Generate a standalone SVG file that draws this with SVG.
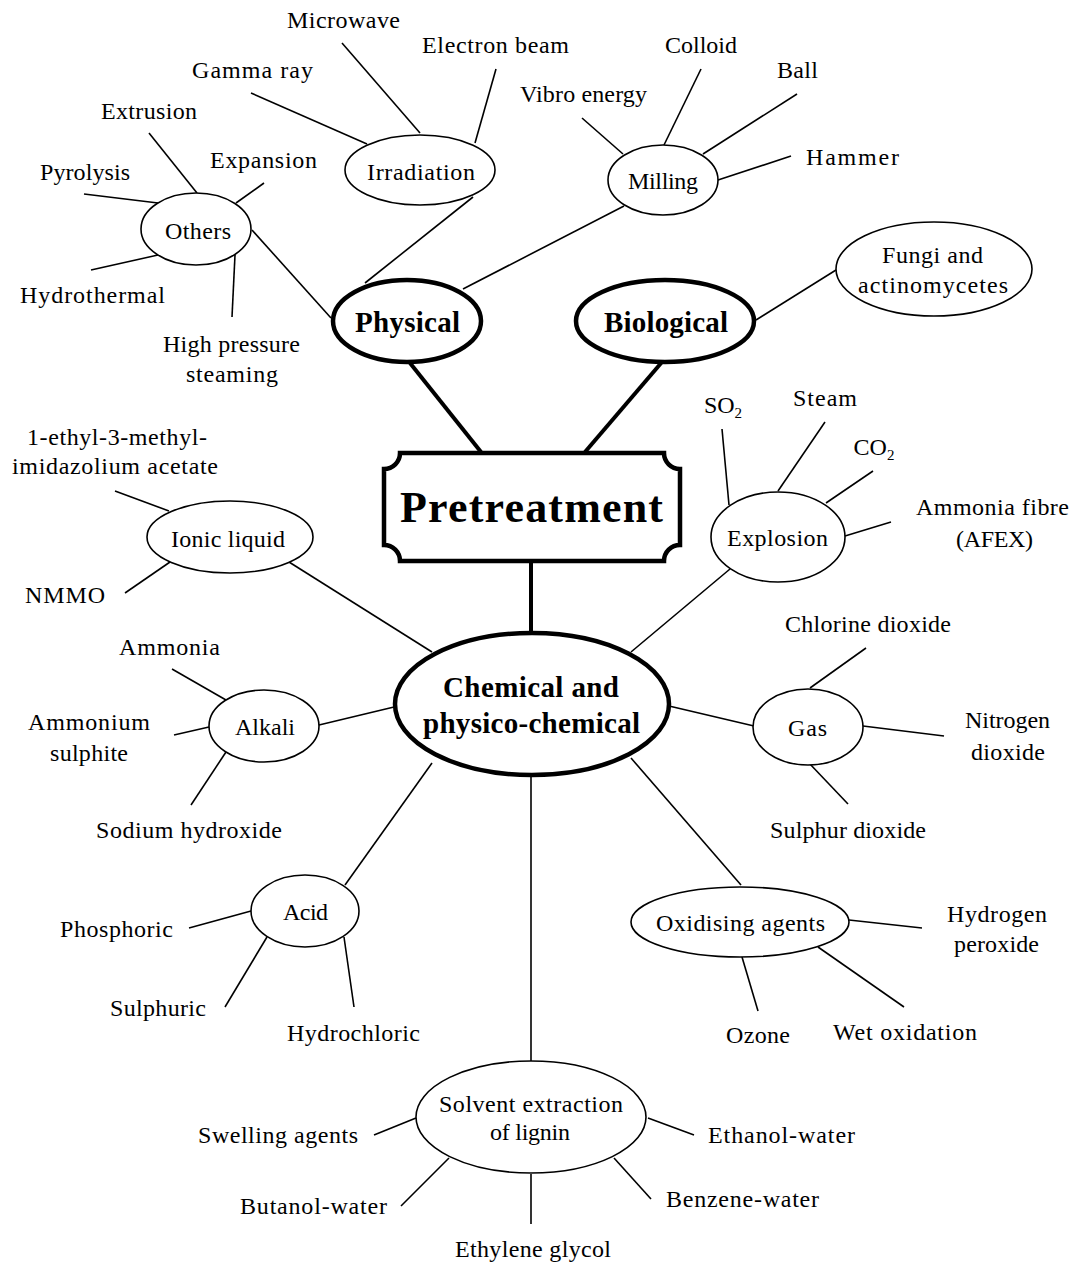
<svg xmlns="http://www.w3.org/2000/svg" width="1075" height="1263" viewBox="0 0 1075 1263">
  <style>
    text { font-family: "Liberation Serif", "Times New Roman", serif; fill: #000; text-anchor: middle; }
    .t { font-size: 24px; }
    .b { font-size: 29px; font-weight: bold; }
    .title { font-size: 44px; font-weight: bold; }
    .sub { font-size: 15px; }
    .node { fill: #fff; stroke: #000; stroke-width: 1.6; }
    .main { fill: #fff; stroke: #000; stroke-width: 4.5; }
    .link line { stroke: #000; stroke-width: 1.6; }
    .link line.thick { stroke-width: 4; }
  </style>
  <rect width="1075" height="1263" fill="#fff"/>

  <!-- connectors -->
  <g id="connectors" class="link">
    <line class="thick" x1="410" y1="363" x2="481" y2="452"/>
    <line class="thick" x1="662" y1="362" x2="585" y2="452"/>
    <line class="thick" x1="531" y1="563" x2="531" y2="633"/>
    <!-- physical branch -->
    <line x1="342" y1="43" x2="420" y2="133"/>
    <line x1="496" y1="69" x2="475" y2="143"/>
    <line x1="251" y1="93" x2="367" y2="144"/>
    <line x1="473" y1="197" x2="365" y2="283"/>
    <line x1="149" y1="133" x2="197" y2="193"/>
    <line x1="264" y1="183" x2="236" y2="203"/>
    <line x1="84" y1="194" x2="158" y2="203"/>
    <line x1="91" y1="270" x2="158" y2="255"/>
    <line x1="235" y1="255" x2="232" y2="317"/>
    <line x1="252" y1="230" x2="331" y2="318"/>
    <line x1="701" y1="69" x2="664" y2="145"/>
    <line x1="797" y1="94" x2="703" y2="154"/>
    <line x1="582" y1="118" x2="623" y2="154"/>
    <line x1="791" y1="156" x2="718" y2="180"/>
    <line x1="624" y1="206" x2="463" y2="289"/>
    <!-- biological branch -->
    <line x1="756" y1="320" x2="836" y2="270"/>
    <!-- chemical branch -->
    <line x1="115" y1="491" x2="169" y2="511"/>
    <line x1="125" y1="593" x2="170" y2="562"/>
    <line x1="289" y1="562" x2="432" y2="652"/>
    <line x1="172" y1="669" x2="226" y2="700"/>
    <line x1="174" y1="735" x2="209" y2="727"/>
    <line x1="191" y1="805" x2="226" y2="752"/>
    <line x1="319" y1="725" x2="394" y2="707"/>
    <line x1="722" y1="429" x2="729" y2="505"/>
    <line x1="825" y1="422" x2="778" y2="491"/>
    <line x1="873" y1="471" x2="826" y2="503"/>
    <line x1="891" y1="522" x2="845" y2="536"/>
    <line x1="730" y1="569" x2="631" y2="652"/>
    <line x1="866" y1="648" x2="810" y2="688"/>
    <line x1="669" y1="706" x2="754" y2="726"/>
    <line x1="863" y1="726" x2="944" y2="736"/>
    <line x1="809" y1="763" x2="848" y2="804"/>
    <line x1="631" y1="758" x2="741" y2="885"/>
    <line x1="849" y1="920" x2="922" y2="928"/>
    <line x1="742" y1="957" x2="758" y2="1011"/>
    <line x1="818" y1="947" x2="904" y2="1007"/>
    <line x1="432" y1="763" x2="345" y2="885"/>
    <line x1="189" y1="928" x2="251" y2="911"/>
    <line x1="225" y1="1007" x2="267" y2="937"/>
    <line x1="354" y1="1007" x2="344" y2="937"/>
    <line x1="531" y1="775" x2="531" y2="1061"/>
    <line x1="374" y1="1135" x2="416" y2="1118"/>
    <line x1="401" y1="1206" x2="449" y2="1158"/>
    <line x1="531" y1="1174" x2="531" y2="1224"/>
    <line x1="614" y1="1158" x2="651" y2="1199"/>
    <line x1="648" y1="1118" x2="694" y2="1135"/>
  </g>

  <!-- central title box with notched corners -->
  <g id="pretreatment">
    <path d="M400 453 H664 A16 16 0 0 0 680 469 V545 A16 16 0 0 0 664 561 H400 A16 16 0 0 0 384 545 V469 A16 16 0 0 0 400 453 Z" fill="#fff" stroke="#000" stroke-width="4.5"/>
    <text class="title" x="531.5" y="522" textLength="263">Pretreatment</text>
  </g>

  <!-- main categories -->
  <g id="physical">
    <ellipse class="main" cx="407" cy="321" rx="74" ry="41"/>
    <text class="b" x="407.5" y="332" textLength="105">Physical</text>
  </g>
  <g id="biological">
    <ellipse class="main" cx="665" cy="321" rx="89" ry="41"/>
    <text class="b" x="666" y="332" textLength="124">Biological</text>
  </g>
  <g id="chemical">
    <ellipse class="main" cx="532" cy="704" rx="137" ry="71"/>
    <text class="b" x="531" y="697" textLength="176">Chemical and</text>
    <text class="b" x="531.5" y="733" textLength="217">physico-chemical</text>
  </g>

  <!-- sub-categories -->
  <g id="irradiation">
    <ellipse class="node" cx="420" cy="170" rx="75" ry="35"/>
    <text class="t" x="421" y="180" textLength="108">Irradiation</text>
  </g>
  <g id="others">
    <ellipse class="node" cx="196" cy="229" rx="55" ry="36"/>
    <text class="t" x="198" y="239" textLength="66">Others</text>
  </g>
  <g id="milling">
    <ellipse class="node" cx="663" cy="180" rx="55" ry="35"/>
    <text class="t" x="663" y="189" textLength="70">Milling</text>
  </g>
  <g id="fungi">
    <ellipse class="node" cx="934" cy="269" rx="98" ry="47"/>
    <text class="t" x="932.5" y="263" textLength="101">Fungi and</text>
    <text class="t" x="933" y="293" textLength="150">actinomycetes</text>
  </g>
  <g id="ionic-liquid">
    <ellipse class="node" cx="230" cy="537" rx="83" ry="36"/>
    <text class="t" x="228" y="547" textLength="114">Ionic liquid</text>
  </g>
  <g id="alkali">
    <ellipse class="node" cx="264" cy="726" rx="55" ry="36"/>
    <text class="t" x="265" y="735" textLength="60">Alkali</text>
  </g>
  <g id="explosion">
    <ellipse class="node" cx="778" cy="537" rx="67" ry="45"/>
    <text class="t" x="777.5" y="546" textLength="101">Explosion</text>
  </g>
  <g id="gas">
    <ellipse class="node" cx="808" cy="727" rx="55" ry="38"/>
    <text class="t" x="807.5" y="736" textLength="39">Gas</text>
  </g>
  <g id="acid">
    <ellipse class="node" cx="305" cy="911" rx="54" ry="36"/>
    <text class="t" x="305.5" y="920" textLength="45">Acid</text>
  </g>
  <g id="oxidising">
    <ellipse class="node" cx="740" cy="922" rx="109" ry="35"/>
    <text class="t" x="740.5" y="931" textLength="169">Oxidising agents</text>
  </g>
  <g id="solvent">
    <ellipse class="node" cx="531" cy="1117" rx="115" ry="56"/>
    <text class="t" x="531" y="1112" textLength="184">Solvent extraction</text>
    <text class="t" x="530" y="1140" textLength="80">of lignin</text>
  </g>

  <!-- leaf labels -->
  <g id="leaves" class="t">
    <text class="t" x="343.5" y="28" textLength="113">Microwave</text>
    <text class="t" x="495.5" y="53" textLength="147">Electron beam</text>
    <text class="t" x="252.5" y="78" textLength="121">Gamma ray</text>
    <text class="t" x="149" y="119" textLength="96">Extrusion</text>
    <text class="t" x="263.5" y="168" textLength="107">Expansion</text>
    <text class="t" x="85" y="180" textLength="90">Pyrolysis</text>
    <text class="t" x="92.5" y="303" textLength="145">Hydrothermal</text>
    <text class="t" x="231.5" y="352" textLength="137">High pressure</text>
    <text class="t" x="232" y="382" textLength="92">steaming</text>
    <text class="t" x="701" y="53" textLength="72">Colloid</text>
    <text class="t" x="797.5" y="78" textLength="41">Ball</text>
    <text class="t" x="583.5" y="102" textLength="127">Vibro energy</text>
    <text class="t" x="852.5" y="165" textLength="93">Hammer</text>
    <text class="t" x="117" y="445" textLength="180">1-ethyl-3-methyl-</text>
    <text class="t" x="115" y="474" textLength="206">imidazolium acetate</text>
    <text class="t" x="65" y="603" textLength="80">NMMO</text>
    <text class="t" x="169.5" y="655" textLength="101">Ammonia</text>
    <text class="t" x="89" y="730" textLength="122">Ammonium</text>
    <text class="t" x="89" y="761" textLength="78">sulphite</text>
    <text class="t" x="189" y="838" textLength="186">Sodium hydroxide</text>
    <text class="t" x="723" y="413">SO<tspan class="sub" dy="5">2</tspan></text>
    <text class="t" x="825" y="406" textLength="64">Steam</text>
    <text class="t" x="874" y="455">CO<tspan class="sub" dy="5">2</tspan></text>
    <text class="t" x="992.5" y="515" textLength="153">Ammonia fibre</text>
    <text class="t" x="994.5" y="547" textLength="77">(AFEX)</text>
    <text class="t" x="868" y="632" textLength="166">Chlorine dioxide</text>
    <text class="t" x="1007.5" y="728" textLength="85">Nitrogen</text>
    <text class="t" x="1008" y="760" textLength="74">dioxide</text>
    <text class="t" x="848" y="838" textLength="156">Sulphur dioxide</text>
    <text class="t" x="116.5" y="937" textLength="113">Phosphoric</text>
    <text class="t" x="158" y="1016" textLength="96">Sulphuric</text>
    <text class="t" x="353.5" y="1041" textLength="133">Hydrochloric</text>
    <text class="t" x="997" y="922" textLength="100">Hydrogen</text>
    <text class="t" x="996.5" y="952" textLength="85">peroxide</text>
    <text class="t" x="758" y="1043" textLength="64">Ozone</text>
    <text class="t" x="905" y="1040" textLength="144">Wet oxidation</text>
    <text class="t" x="278" y="1143" textLength="160">Swelling agents</text>
    <text class="t" x="781.5" y="1143" textLength="147">Ethanol-water</text>
    <text class="t" x="313.5" y="1214" textLength="147">Butanol-water</text>
    <text class="t" x="533" y="1257" textLength="156">Ethylene glycol</text>
    <text class="t" x="742.5" y="1207" textLength="153">Benzene-water</text>
  </g>
</svg>
